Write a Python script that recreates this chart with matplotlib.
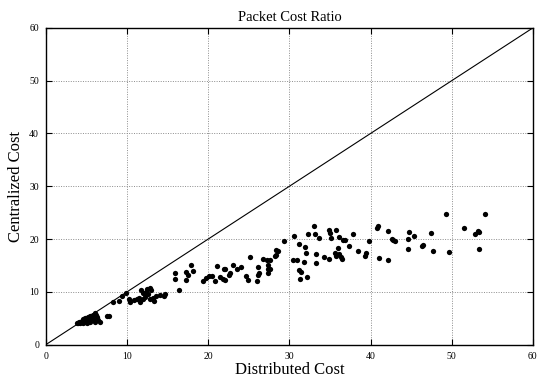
import matplotlib

matplotlib.use("Agg")
import matplotlib.pyplot as plt

# packet cost per run: distributed scheme vs centralized scheme
distributed = [
    3.8, 4.1, 4.4, 4.6, 4.8, 5.0, 5.2, 5.4, 5.6, 5.8, 6.0, 6.2, 6.4, 6.7, 6.0,
    5.4, 5.0, 4.6, 4.2, 5.6, 5.2, 4.4, 4.9, 5.8, 6.3, 5.3, 4.0, 7.5, 7.8,
    8.3, 9.0, 9.4, 9.9, 10.2, 10.3, 10.8, 11.2, 11.5, 11.6, 11.7, 12.0, 12.3,
    12.4, 12.6, 12.8, 13.0, 12.8, 13.2, 13.3, 13.6, 14.1, 14.5, 14.7, 12.2, 11.9,
    15.9, 15.9, 16.4, 17.3, 17.5, 17.3, 17.9, 18.1, 19.3, 19.7, 20.1, 20.4,
    20.8, 21.1, 21.4, 21.8, 22.0, 21.9, 22.1, 22.5, 22.7, 23.0, 23.5, 24.0,
    24.6, 24.9, 25.1, 26.0, 26.1, 26.3, 26.8, 27.2, 27.6, 27.4, 27.4, 27.3,
    28.3, 28.6, 28.4, 28.2, 27.6, 26.1,
    29.3, 30.6, 33.0, 32.3, 33.2, 33.7, 34.9, 35.0, 35.7, 35.1, 36.1, 36.6,
    36.9, 37.3, 38.5, 36.0, 35.6, 36.1, 36.4, 35.7, 31.2, 31.9, 32.1, 30.5,
    30.9, 31.8, 33.3, 33.3, 34.2, 34.9, 31.2, 31.4, 31.3, 32.2, 36.5,
    37.8, 39.3, 39.4, 39.8, 40.8, 40.9, 41.0, 42.2, 42.2, 42.8, 43.0, 42.7,
    44.7, 45.4, 44.6, 44.6, 46.3, 46.4, 47.5, 47.7, 49.3, 49.7, 51.5, 53.2,
    53.3, 52.9, 53.4, 54.1,
]
centralized = [
    4.1, 4.3, 4.5, 4.8, 5.0, 5.1, 5.3, 5.4, 5.5, 5.6, 5.9, 5.6, 4.6, 4.2, 4.3,
    4.3, 4.1, 4.1, 4.1, 5.0, 4.6, 4.2, 4.4, 4.8, 5.2, 4.9, 4.0, 5.4, 5.4,
    8.1, 8.2, 9.2, 9.7, 8.7, 8.0, 8.4, 8.7, 8.9, 8.0, 10.3, 8.6, 9.9,
    10.5, 9.6, 10.8, 10.3, 8.6, 8.8, 8.2, 9.2, 9.4, 9.2, 9.6, 9.1, 9.8,
    13.5, 12.5, 10.3, 13.8, 13.2, 12.3, 15.0, 14.0, 12.0, 12.7, 12.9, 13.0,
    12.1, 14.9, 12.8, 12.4, 12.2, 14.3, 14.4, 13.2, 13.5, 15.1, 14.3, 14.7,
    13.0, 12.2, 16.5, 12.1, 14.7, 13.5, 16.3, 16.1, 16.0, 15.1, 14.3, 13.6,
    17.0, 17.8, 17.9, 16.8, 14.3, 13.2,
    19.6, 20.6, 22.5, 20.9, 20.9, 20.1, 21.7, 21.2, 21.8, 20.1, 20.4, 19.8,
    19.9, 18.7, 17.8, 18.3, 17.3, 17.2, 16.6, 16.8, 19.0, 18.4, 17.4, 16.1,
    16.1, 15.6, 15.5, 17.1, 16.6, 16.3, 14.1, 13.8, 12.4, 12.8, 16.3,
    20.9, 16.8, 17.3, 19.6, 22.1, 22.5, 16.4, 21.6, 16.0, 19.9, 19.6, 20.0,
    21.4, 20.6, 20.0, 18.1, 18.7, 18.9, 21.2, 17.7, 24.7, 17.5, 22.1, 21.6,
    21.4, 20.9, 18.2, 24.7,
]
ticks = [0, 10, 20, 30, 40, 50, 60]

plt.rcParams["font.family"] = ["Liberation Serif", "DejaVu Serif"]

fig = plt.figure(figsize=(5.41, 3.82), dpi=100)
ax = fig.add_axes([0.085, 0.098, 0.900, 0.829])

ax.plot(ticks, ticks, color="black", lw=0.8, zorder=2)
ax.plot(distributed, centralized, "o", color="black", ms=3.8, mew=0, zorder=3)

ax.set_xlim(0, 60)
ax.set_ylim(0, 60)
ax.set_xticks(ticks)
ax.set_yticks(ticks)
ax.grid(True, color="0.55", linestyle=(0, (1, 1.5)), linewidth=0.7)
ax.tick_params(direction="in", top=True, right=True, length=4, width=0.8,
               labelsize=7, pad=5)
for sp in ax.spines.values():
    sp.set_linewidth(1.0)

ax.set_title("Packet Cost Ratio", fontsize=10.5, pad=5)
ax.set_xlabel("Distributed Cost", fontsize=12, labelpad=1)
ax.set_ylabel("Centralized Cost", fontsize=12, labelpad=4)

fig.savefig("out.png", dpi=100)
